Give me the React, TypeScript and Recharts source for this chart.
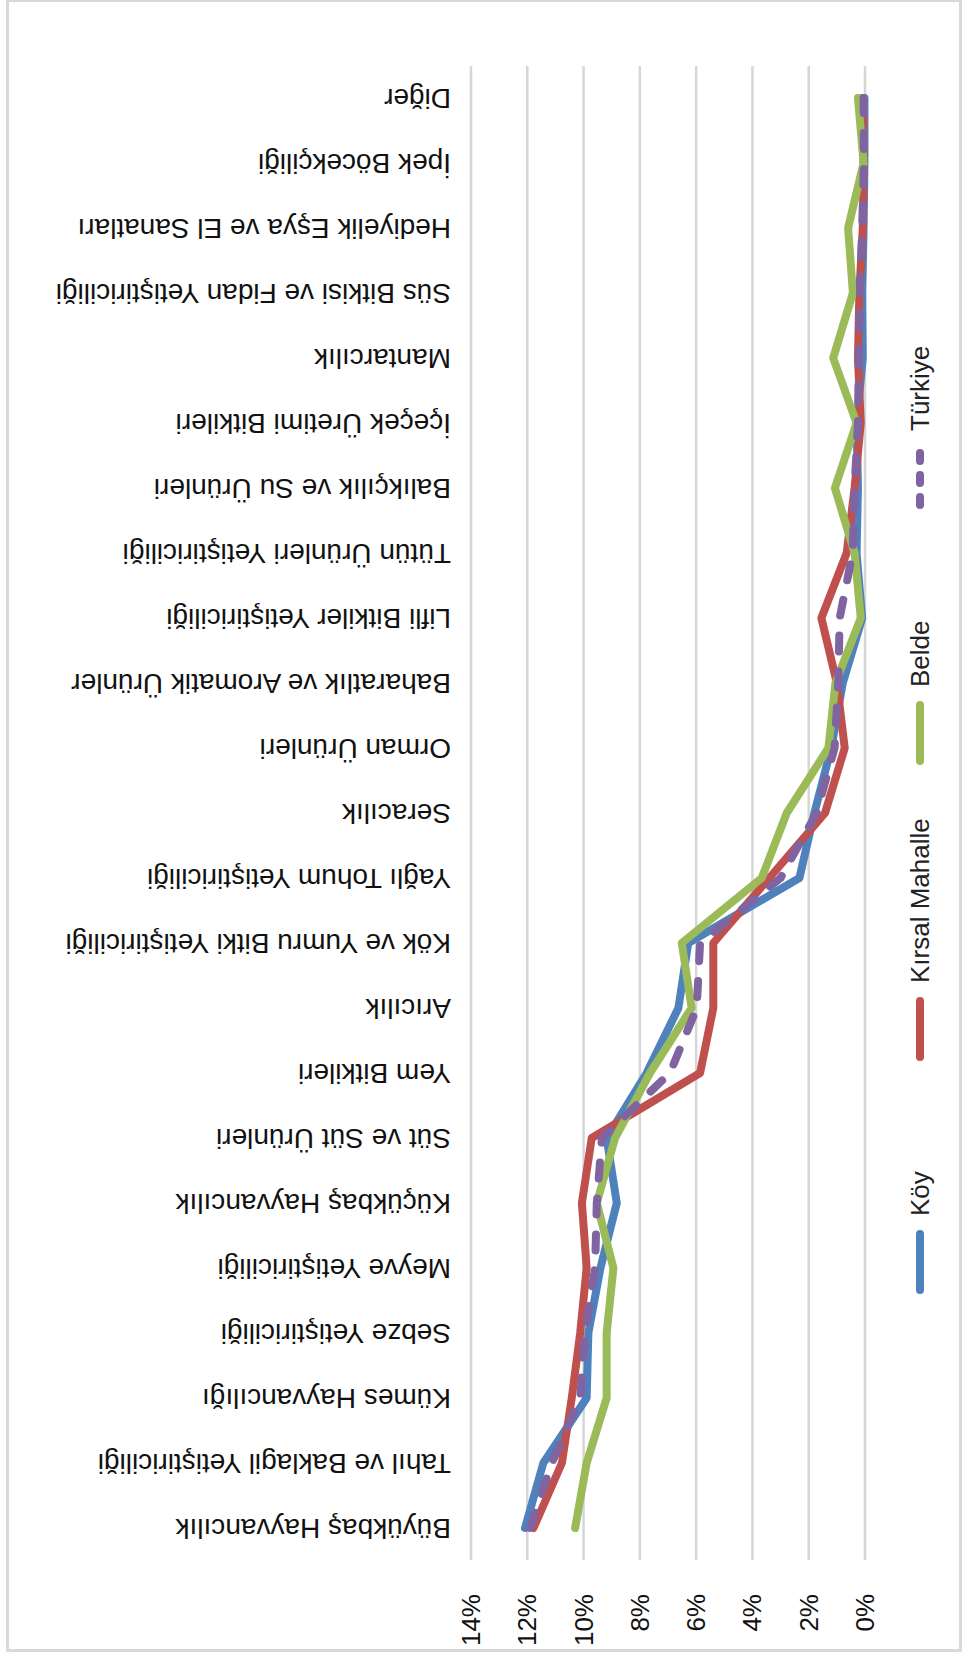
import { LineChart, Line, XAxis, YAxis, CartesianGrid, Legend } from "recharts";

// categories bottom -> top
const CATEGORIES = [
  "Büyükbaş Hayvancılık",
  "Tahıl ve Baklagil Yetiştiriciliği",
  "Kümes Hayvancılığı",
  "Sebze Yetiştiriciliği",
  "Meyve Yetiştiriciliği",
  "Küçükbaş Hayvancılık",
  "Süt ve Süt Ürünleri",
  "Yem Bitkileri",
  "Arıcılık",
  "Kök ve Yumru Bitki Yetiştiriciliği",
  "Yağlı Tohum Yetiştiriciliği",
  "Seracılık",
  "Orman Ürünleri",
  "Baharatlık ve Aromatik Ürünler",
  "Lifli Bitkiler Yetiştiriciliği",
  "Tütün Ürünleri Yetiştiriciliği",
  "Balıkçılık ve Su Ürünleri",
  "İçeçek Üretimi Bitkileri",
  "Mantarcılık",
  "Süs Bitkisi ve Fidan Yetiştiriciliği",
  "Hediyelik Eşya ve El Sanatları",
  "İpek Böcekçiliği",
  "Diğer",
];

// values in %
const KOY = [12.08, 11.43, 9.89, 9.83, 9.4, 8.82, 9.18, 7.76, 6.63, 6.28, 2.33, 1.8, 1.2, 0.79, 0.1, 0.3, 0.25, 0.3, 0.08, 0.1, 0.05, 0.02, 0.02];
const KIRSAL = [11.78, 10.77, 10.42, 10.12, 9.89, 10.06, 9.71, 5.86, 5.39, 5.39, 3.4, 1.42, 0.72, 1.0, 1.55, 0.65, 0.37, 0.15, 0.25, 0.2, 0.08, 0.05, 0.08];
const BELDE = [10.3, 9.89, 9.18, 9.18, 8.94, 9.53, 8.88, 7.64, 6.16, 6.51, 3.67, 2.78, 1.3, 1.05, 0.15, 0.37, 1.07, 0.3, 1.13, 0.43, 0.6, 0.05, 0.25];
const TURKIYE = [11.9, 11.13, 10.12, 9.95, 9.59, 9.53, 9.35, 6.93, 5.98, 5.86, 3.0, 1.72, 1.08, 0.95, 0.9, 0.44, 0.37, 0.25, 0.22, 0.18, 0.1, 0.04, 0.05];

const X_TICKS = [0, 2, 4, 6, 8, 10, 12, 14];

const SERIES = [
  { key: "koy", name: "Köy", color: "#4F81BD", dash: undefined },
  { key: "kirsal", name: "Kırsal Mahalle", color: "#C0504D", dash: undefined },
  { key: "belde", name: "Belde", color: "#9BBB59", dash: undefined },
  { key: "turkiye", name: "Türkiye", color: "#8064A2", dash: "16 20" },
];

const data = CATEGORIES.map((name, i) => ({
  name,
  koy: KOY[i],
  kirsal: KIRSAL[i],
  belde: BELDE[i],
  turkiye: TURKIYE[i],
}));

const FONT = '"Liberation Sans", Arial, sans-serif';

function CategoryTick(props: any) {
  const { y, payload } = props;
  const x0 = 451;
  return (
    <text
      x={x0}
      y={y}
      transform={`rotate(180 ${x0} ${y})`}
      textAnchor="start"
      dominantBaseline="central"
      fontSize={28}
      fontFamily={FONT}
      fill="#111"
    >
      {payload.value}
    </text>
  );
}

function ValueTick(props: any) {
  const { x, payload } = props;
  const y0 = 1594;
  return (
    <text
      x={x}
      y={y0}
      transform={`rotate(-90 ${x} ${y0})`}
      textAnchor="end"
      dominantBaseline="central"
      fontSize={26}
      fontFamily={FONT}
      fill="#111"
    >
      {`${payload.value}%`}
    </text>
  );
}

// legend is rotated like the rest of the picture: items run bottom -> top
const LEGEND_TOP = 300;
const LEGEND_START = [1290, 1057, 761, 505];

function RotatedLegend() {
  const cx = 25;
  return (
    <svg width={50} height={1050} style={{ overflow: "visible" }}>
      {SERIES.map((s, i) => {
        const y0 = LEGEND_START[i] - LEGEND_TOP;
        return (
          <g key={s.key}>
            <line
              x1={cx}
              x2={cx}
              y1={y0}
              y2={y0 - 56}
              stroke={s.color}
              strokeWidth={8}
              strokeLinecap="round"
              strokeDasharray={s.dash ? "8 14" : undefined}
            />
            <text
              x={cx}
              y={y0 - 74}
              transform={`rotate(-90 ${cx} ${y0 - 74})`}
              textAnchor="start"
              dominantBaseline="central"
              fontSize={26}
              fontFamily={FONT}
              fill="#222"
            >
              {s.name}
            </text>
          </g>
        );
      })}
    </svg>
  );
}

export default function App() {
  return (
    <div style={{ position: "absolute", left: 0, top: 0, width: 963, height: 1658, background: "#fff" }}>
      <div
        style={{
          position: "absolute",
          left: 6,
          top: -1,
          width: 956,
          height: 1653,
          border: "3px solid #d9d9d9",
          boxSizing: "border-box",
        }}
      />
      <LineChart
        width={963}
        height={1658}
        data={data}
        layout="vertical"
        margin={{ top: 66, right: 98, bottom: 0, left: 0 }}
      >
        <CartesianGrid horizontal={false} stroke="#d6d6d6" strokeWidth={2.5} />
        <XAxis
          type="number"
          domain={[0, 14]}
          ticks={X_TICKS}
          reversed
          height={98}
          axisLine={false}
          tickLine={false}
          tick={<ValueTick />}
        />
        <YAxis
          type="category"
          dataKey="name"
          reversed
          width={471}
          interval={0}
          padding={{ top: 32, bottom: 32 }}
          axisLine={false}
          tickLine={false}
          tick={<CategoryTick />}
        />
        <Legend
          layout="vertical"
          align="center"
          verticalAlign="middle"
          wrapperStyle={{ left: 895, top: LEGEND_TOP, width: 50, height: 1050 }}
          content={() => <RotatedLegend />}
        />
        {SERIES.map((s) => (
          <Line
            key={s.key}
            dataKey={s.key}
            name={s.name}
            stroke={s.color}
            strokeWidth={8}
            strokeLinecap="round"
            strokeLinejoin="round"
            strokeDasharray={s.dash}
            dot={false}
            activeDot={false}
            isAnimationActive={false}
          />
        ))}
      </LineChart>
    </div>
  );
}
